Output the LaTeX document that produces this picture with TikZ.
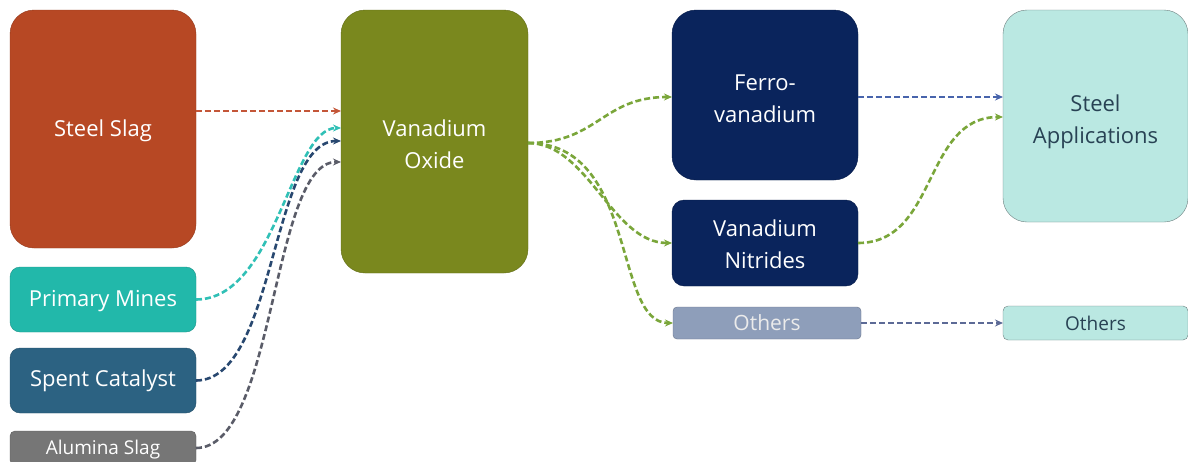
\documentclass[tikz,border=0pt]{standalone}
\usepackage{fontspec}
\setmainfont{Open Sans}
\usetikzlibrary{arrows.meta,calc}
\definecolor{cslag}{RGB}{183,72,36}
\definecolor{cmines}{RGB}{34,184,170}
\definecolor{ccat}{RGB}{44,98,130}
\definecolor{calu}{RGB}{118,118,118}
\definecolor{coxide}{RGB}{122,136,30}
\definecolor{cnavy}{RGB}{10,36,92}
\definecolor{cothl}{RGB}{142,158,186}
\definecolor{capp}{RGB}{186,232,226}
\definecolor{cappb}{RGB}{110,128,128}
\definecolor{aslag}{RGB}{196,86,56}
\definecolor{amines}{RGB}{48,192,182}
\definecolor{acat}{RGB}{40,72,112}
\definecolor{aalu}{RGB}{90,92,104}
\definecolor{agreen}{RGB}{122,166,58}
\definecolor{ablue}{RGB}{72,100,172}
\definecolor{aoth}{RGB}{92,106,150}
\definecolor{tdark}{RGB}{40,66,84}
\tikzset{
  box/.style={anchor=north west, inner sep=0pt, outer sep=0pt, align=center, text=white,
              font=\fontsize{22}{32}\selectfont},
  link/.style={dashed, dash pattern=on 6pt off 3pt, line width=2.6pt, -{Stealth[length=8pt,width=7pt]}}
}
\begin{document}
\begin{tikzpicture}[x=1pt,y=-1pt]
\useasboundingbox (0,0) rectangle (1188,461);
\fill[white] (0,0) rectangle (1188,461);
% sources
\node[box, fill=cslag, draw=cslag!80!black, rounded corners=24pt, minimum width=186pt, minimum height=238pt] (ss) at (10,10) {\rule{0pt}{20pt}Steel Slag};
\node[box, fill=cmines, draw=cmines!80!black, rounded corners=10pt, minimum width=186pt, minimum height=65pt] (pm) at (10,267) {\rule{0pt}{20pt}Primary Mines};
\node[box, fill=ccat, draw=ccat!80!black, rounded corners=10pt, minimum width=186pt, minimum height=65pt] (sc) at (10,348) {Spent Catalyst};
\node[box, fill=calu, draw=calu!80!black, rounded corners=5pt, minimum width=186pt, minimum height=34pt, font=\fontsize{19}{22}\selectfont] (as) at (10,431) {\rule{0pt}{18pt}Alumina Slag};
% center
\node[box, fill=coxide, draw=coxide!80!black, rounded corners=24pt, minimum width=187pt, minimum height=263pt] (vo) at (341,10) {\rule{0pt}{23pt}Vanadium\\Oxide};
% products
\node[box, fill=cnavy, draw=cnavy!80!black, rounded corners=24pt, minimum width=186pt, minimum height=170pt] (fv) at (672,10) {\rule{0pt}{24pt}Ferro-\\vanadium};
\node[box, fill=cnavy, draw=cnavy!80!black, rounded corners=12pt, minimum width=186pt, minimum height=86pt] (vn) at (672,200) {\rule{0pt}{19pt}Vanadium\\Nitrides};
\node[box, fill=cothl, draw=cothl!75!black, rounded corners=4pt, minimum width=188pt, minimum height=32pt, text=white!92!black, font=\fontsize{21}{24}\selectfont] (ol) at (673,307) {Others};
% applications
\node[box, fill=capp, draw=cappb, rounded corners=24pt, minimum width=185pt, minimum height=212pt, text=tdark] (sa) at (1003,10) {\rule{0pt}{29pt}Steel\\Applications};
\node[box, fill=capp, draw=cappb, rounded corners=5pt, minimum width=185pt, minimum height=34pt, text=tdark, font=\fontsize{19}{22}\selectfont] (or) at (1003,306) {Others};
% coordinates on Vanadium Oxide
\coordinate (ss1) at ($(ss.north east)+(0,101)$);
\coordinate (vo1) at ($(vo.north west)+(0,101)$);
\coordinate (vo2) at ($(vo.north west)+(0,118)$);
\coordinate (vo3) at ($(vo.north west)+(0,131)$);
\coordinate (vo4) at ($(vo.north west)+(0,152)$);
\coordinate (voo) at ($(vo.north east)+(0,133)$);
% links to oxide
\draw[link, aslag] (ss1) -- (vo1);
\draw[link, amines] (pm.east) .. controls +(80,0) and +(-50,0) .. (vo2);
\draw[link, acat] (sc.east) .. controls +(80,0) and +(-70,0) .. (vo3);
\draw[link, aalu] (as.east) .. controls +(80,0) and +(-70,0) .. (vo4);
% links to products
\coordinate (fv1) at ($(fv.north west)+(0,87)$);
\draw[link, agreen] (voo) .. controls +(70,0) and +(-70,0) .. (fv1);
\draw[link, agreen] (voo) .. controls +(60,0) and +(-60,0) .. (vn.west);
\draw[link, agreen] (voo) .. controls +(110,0) and +(-60,0) .. (ol.west);
% links to applications
\coordinate (fve) at ($(fv.north east)+(0,87)$);
\coordinate (sa1) at ($(sa.north west)+(0,87)$);
\coordinate (sa2) at ($(sa.north west)+(0,107)$);
\draw[link, ablue] (fve) -- (sa1);
\draw[link, agreen] (vn.east) .. controls +(80,0) and +(-80,0) .. (sa2);
\draw[link, aoth] (ol.east) -- (or.west);
\end{tikzpicture}
\end{document}
